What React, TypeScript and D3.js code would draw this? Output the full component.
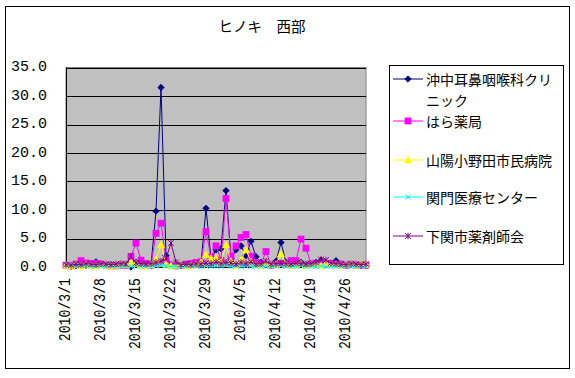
import React from "react";
import * as d3 from "d3";

const title = "ヒノキ　西部";
const startDate = new Date(2010, 2, 1);
const endDate = new Date(2010, 4, 1);
const tickLabels = ["2010/3/1", "2010/3/8", "2010/3/15", "2010/3/22", "2010/3/29", "2010/4/5", "2010/4/12", "2010/4/19", "2010/4/26"];
const yTicks = [0, 5, 10, 15, 20, 25, 30, 35];

const seriesNames = ["沖中耳鼻咽喉科クリニック", "はら薬局", "山陽小野田市民病院", "関門医療センター", "下関市薬剤師会"];

const okinaka = [
  0.2, 0.1, 0.2, 0.3, 0.3, 0.4, 0.9, 0.5, 0.3, 0.4,
  0.3, 0.4, 0.5, 0.0, 0.8, 0.5, 0.4, 0.3, 9.8, 31.5,
  2.0, 0.4, 0.2, 0.2, 0.3, 0.3, 0.4, 0.6, 10.3, 1.5,
  3.0, 3.2, 13.4, 1.5, 3.0, 3.7, 2.0, 4.5, 1.8, 0.8,
  0.5, 0.3, 1.0, 4.3, 0.8, 0.5, 0.6, 0.8, 0.4, 0.5,
  0.8, 1.2, 0.6, 0.5, 1.1, 0.4, 0.3, 0.5, 0.3, 0.3, 0.2,
];
const hara = [
  0.3, 0.2, 0.5, 1.1, 0.7, 0.6, 0.6, 0.5, 0.3, 0.2,
  0.2, 0.3, 0.3, 1.8, 4.2, 1.2, 0.6, 0.3, 5.9, 7.7,
  1.2, 0.3, 0.2, 0.3, 0.5, 0.6, 0.8, 0.9, 6.2, 1.7,
  3.7, 1.2, 12.0, 1.9, 3.7, 5.2, 5.7, 1.9, 0.8, 0.5,
  2.7, 0.3, 0.5, 0.6, 0.5, 1.1, 1.1, 4.9, 3.3, 0.5,
  0.5, 0.7, 0.4, 0.6, 0.4, 0.5, 0.3, 0.4, 0.3, 0.3, 0.3,
];
const sanyo = [
  0.3, 0.2, 0.4, 0.2, 0.5, 0.3, 0.2, 0.4, 0.3, 0.2,
  0.3, 0.5, 0.4, 0.8, 0.6, 0.3, 0.2, 0.4, 1.3, 3.9,
  0.5, 0.2, 0.3, 0.4, 0.2, 0.3, 0.5, 0.8, 2.2, 1.5,
  1.6, 0.8, 3.9, 1.0, 0.3, 1.2, 3.0, 1.0, 0.4, 0.3,
  0.6, 0.4, 0.5, 2.3, 0.5, 0.3, 0.4, 0.6, 0.3, 0.4,
  0.5, 0.3, 0.6, 0.4, 0.5, 0.3, 0.4, 0.6, 0.3, 0.5, 0.4,
];
const kanmon = [
  0.3, 0.4, 0.2, 0.3, 0.2, 0.1, 0.2, 0.1, 0.1, 0.2,
  0.1, 0.1, 0.2, 0.1, 0.2, 0.1, 0.1, 0.1, 0.2, 0.3,
  0.2, 0.1, 0.1, 0.1, 0.1, 0.2, 0.1, 0.1, 0.2, 0.1,
  0.2, 0.1, 0.3, 0.1, 0.2, 0.1, 0.2, 0.1, 0.1, 0.1,
  0.1, 0.1, 0.2, 0.2, 0.1, 0.1, 0.1, 0.2, 0.1, 0.1,
  0.1, 0.2, 0.1, 0.1, 0.1, 0.1, 0.2, 0.1, 0.1, 0.1, 0.1,
];
const shimonoseki = [
  0.4, 0.3, 0.5, 0.4, 0.6, 0.5, 0.4, 0.6, 0.5, 0.4,
  0.5, 0.6, 0.5, 1.9, 0.7, 0.6, 0.5, 0.6, 0.8, 1.0,
  1.5, 4.2, 0.8, 0.4, 0.5, 0.4, 0.6, 0.5, 0.7, 0.6,
  0.9, 0.6, 0.8, 0.7, 0.5, 0.8, 0.6, 0.9, 0.5, 0.6,
  1.0, 0.5, 0.6, 0.7, 0.6, 0.5, 0.7, 0.6, 0.5, 0.6,
  0.8, 1.3, 1.2, 0.7, 0.6, 0.5, 0.4, 0.6, 0.5, 0.4, 0.5,
];

const seriesValues = [okinaka, hara, sanyo, kanmon, shimonoseki];
const colors = ["#000080", "#FF00FF", "#FFFF00", "#00FFFF", "#800080"];
const markers = ["diamond", "square", "triangle", "x", "star"];

const W = 575, H = 378;
const plot = { left: 66, top: 67.5, right: 366, bottom: 267 };
const FONT_JP = "'Noto Sans CJK JP', sans-serif";
const FONT_MONO = "'Liberation Mono', 'DejaVu Sans Mono', monospace";

function Marker({ type, x, y, color }: { type: string; x: number; y: number; color: string }) {
  if (type === "diamond") {
    const s = 3.2;
    return <path d={`M${x},${y - s}L${x + s},${y}L${x},${y + s}L${x - s},${y}Z`} fill={color} stroke={color} strokeWidth={0.8} />;
  }
  if (type === "square") {
    return <rect x={x - 3} y={y - 3} width={6} height={6} fill={color} stroke={color} strokeWidth={0.8} />;
  }
  if (type === "triangle") {
    return <path d={`M${x},${y - 3.5}L${x + 3.5},${y + 3}L${x - 3.5},${y + 3}Z`} fill={color} stroke={color} strokeWidth={0.8} />;
  }
  if (type === "x") {
    const s = 2.5;
    return <path d={`M${x - s},${y - s}L${x + s},${y + s}M${x - s},${y + s}L${x + s},${y - s}`} stroke={color} strokeWidth={1} fill="none" />;
  }
  const s = 2.8;
  return (
    <path
      d={`M${x - s},${y - s}L${x + s},${y + s}M${x - s},${y + s}L${x + s},${y - s}M${x},${y - s - 0.5}L${x},${y + s + 0.5}`}
      stroke={color}
      strokeWidth={1}
      fill="none"
    />
  );
}

export default function App() {
  const dates = d3.timeDay.range(startDate, endDate);
  const x = d3.scaleLinear().domain([0, dates.length - 1]).range([plot.left, plot.right]);
  const y = d3.scaleLinear().domain([0, 35]).range([plot.bottom, plot.top]);
  const line = d3
    .line<number>()
    .x((_, i) => x(i))
    .y((v) => y(v));

  const legendItems = [
    { lines: ["沖中耳鼻咽喉科クリ", "ニック"], y: 79 },
    { lines: ["はら薬局"], y: 121 },
    { lines: ["山陽小野田市民病院"], y: 160 },
    { lines: ["関門医療センター"], y: 197 },
    { lines: ["下関市薬剤師会"], y: 236 },
  ];

  return (
    <svg width={W} height={H} style={{ position: "absolute", left: 0, top: 0, background: "#fff" }}>
      <rect x={0} y={0} width={W} height={H} fill="#fff" />
      <rect x={5.5} y={6.5} width={564} height={362} fill="#fff" stroke="#000" strokeWidth={1} />
      <text x={262} y={25} textAnchor="middle" dominantBaseline="central" fontFamily={FONT_JP} fontSize={14.5}>
        {title}
      </text>
      <rect x={plot.left} y={plot.top} width={plot.right - plot.left} height={plot.bottom - plot.top} fill="#C0C0C0" stroke="#808080" strokeWidth={1} />
      {yTicks.map((t) => (
        <g key={t}>
          {t > 0 && <line x1={plot.left} x2={plot.right} y1={Math.round(y(t)) + 0.5} y2={Math.round(y(t)) + 0.5} stroke="#000" strokeWidth={1} />}
          <text x={47} y={y(t)} textAnchor="end" dominantBaseline="central" fontFamily={FONT_MONO} fontSize={15} textLength={t >= 10 ? 36 : 27} lengthAdjust="spacingAndGlyphs">
            {t.toFixed(1)}
          </text>
        </g>
      ))}
      <line x1={plot.left + 0.5} x2={plot.left + 0.5} y1={plot.top} y2={plot.bottom} stroke="#000" />
      <line x1={plot.left} x2={plot.right} y1={plot.bottom + 0.5} y2={plot.bottom + 0.5} stroke="#000" />
      {tickLabels.map((lab, k) => {
        const xi = x(k * 7);
        return (
          <text
            key={lab}
            transform={`translate(${xi},278) rotate(-90)`}
            textAnchor="end"
            dominantBaseline="central"
            fontFamily={FONT_MONO}
            fontSize={16}
            textLength={lab.length * 7.9}
            lengthAdjust="spacingAndGlyphs"
          >
            {lab}
          </text>
        );
      })}
      {seriesValues.map((vals, si) => (
        <g key={si}>
          <path d={line(vals) || ""} fill="none" stroke={colors[si]} strokeWidth={1} />
          {vals.map((v, i) => (
            <Marker key={i} type={markers[si]} x={x(i)} y={y(v)} color={colors[si]} />
          ))}
        </g>
      ))}
      <rect x={389.5} y={65.5} width={174} height={199} fill="#fff" stroke="#000" strokeWidth={1} />
      {legendItems.map((it, si) => (
        <g key={si}>
          <line x1={393} x2={423} y1={it.y} y2={it.y} stroke={colors[si]} strokeWidth={1} />
          <Marker type={markers[si]} x={408} y={it.y} color={colors[si]} />
          {it.lines.map((l, li) => (
            <text key={li} x={426} y={it.y + li * 20.5} dominantBaseline="central" fontFamily={FONT_JP} fontSize={14}>
              {l}
            </text>
          ))}
        </g>
      ))}
    </svg>
  );
}
